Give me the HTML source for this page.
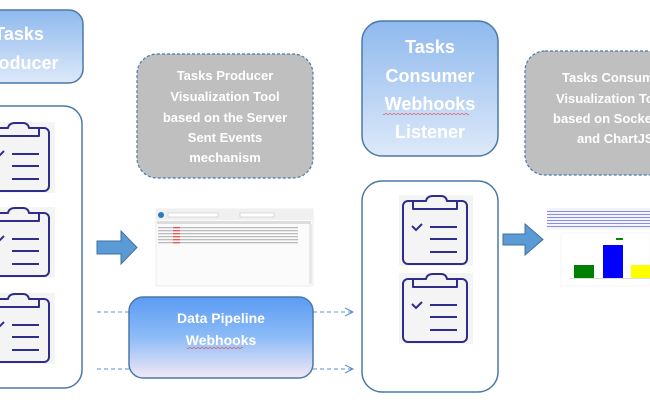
<!DOCTYPE html>
<html><head><meta charset="utf-8"><style>
html,body{margin:0;padding:0;background:#fff;width:650px;height:400px;overflow:hidden}
text{font-family:"Liberation Sans",sans-serif;font-weight:bold;fill:#fff}
</style></head><body>
<svg width="650" height="400" viewBox="0 0 650 400" xmlns="http://www.w3.org/2000/svg">
<defs>
<linearGradient id="bl" x1="0" y1="0" x2="0" y2="1"><stop offset="0" stop-color="#8fb9ee"/><stop offset="1" stop-color="#dde9f9"/></linearGradient>
<linearGradient id="pl" x1="0" y1="0" x2="0" y2="1"><stop offset="0" stop-color="#5b9bf3"/><stop offset="0.5" stop-color="#8dbcf7"/><stop offset="1" stop-color="#f3e8f5"/></linearGradient>
<g id="clip">
<rect x="0" y="0" width="74" height="71" fill="#f4f4f4"/>
<rect x="4" y="6" width="64" height="63" rx="5" fill="none" stroke="#2e2e8a" stroke-width="2"/>
<path d="M14 14 V6 H27 Q28 1 34 1 H42 Q47 1 48 6 H58 V14 Z" fill="#f4f4f4" stroke="#2e2e8a" stroke-width="2" stroke-linejoin="round"/>
<path d="M13 31 L17 35 L23 29" fill="none" stroke="#2e2e8a" stroke-width="2"/>
<path d="M31 32 H58 M31 44 H58 M31 57 H58" stroke="#2e2e8a" stroke-width="2"/>
</g>
</defs>

<rect x="-45" y="10" width="128" height="73" rx="14" fill="url(#bl)" stroke="#4a79a8" stroke-width="1.5"/>
<text x="19" y="40" font-size="18" text-anchor="middle">Tasks</text>
<text x="19" y="69" font-size="18" text-anchor="middle">Producer</text>

<rect x="-40" y="106" width="122" height="282" rx="18" fill="#fff" stroke="#4a79a8" stroke-width="1.5"/>
<use href="#clip" x="-19" y="122"/>
<use href="#clip" x="-19" y="207"/>
<use href="#clip" x="-19" y="293"/>

<rect x="137" y="54" width="176" height="124" rx="20" fill="#bfbfbf" stroke="#4a79a8" stroke-width="1.2" stroke-dasharray="3,2"/>
<g font-size="13" text-anchor="middle">
<text x="225" y="80">Tasks Producer</text>
<text x="225" y="101">Visualization Tool</text>
<text x="225" y="122">based on the Server</text>
<text x="225" y="142">Sent Events</text>
<text x="225" y="162">mechanism</text>
</g>

<path d="M97 241 H121 V231 L137 247.5 L121 264 V254 H97 Z" fill="#5b9bd5" stroke="#41719c" stroke-width="1"/>

<rect x="156" y="209" width="157" height="77" fill="#fbfbfb" stroke="#ddd" stroke-width="0.5"/>
<rect x="156" y="209" width="157" height="11" fill="#f0f0f0"/>
<circle cx="161" cy="215" r="3" fill="#2b78c4"/>
<rect x="168" y="213" width="50" height="4" fill="#fff" stroke="#bbb" stroke-width="0.5"/>
<rect x="240" y="213" width="34" height="4" fill="#fff" stroke="#bbb" stroke-width="0.5"/>
<rect x="157" y="221" width="154" height="3" fill="#ddd"/>
<g fill="#bbb">
<rect x="158" y="227" width="140" height="1.3"/><rect x="158" y="230" width="140" height="1.3"/><rect x="158" y="233" width="140" height="1.3"/><rect x="158" y="236" width="140" height="1.3"/><rect x="158" y="239" width="140" height="1.3"/><rect x="158" y="242" width="140" height="1.3"/>
</g>
<g fill="#e55"><rect x="173" y="227" width="7" height="1.3"/><rect x="173" y="230" width="7" height="1.3"/><rect x="173" y="233" width="7" height="1.3"/><rect x="173" y="236" width="7" height="1.3"/><rect x="173" y="239" width="7" height="1.3"/><rect x="173" y="242" width="7" height="1.3"/></g>
<rect x="309" y="224" width="3" height="60" fill="#e8e8e8"/>

<path d="M97 312 H129 M97 369 H129 M313 312 H352 M313 369 H352" stroke="#5b8fd0" stroke-width="1" stroke-dasharray="4,3"/>
<path d="M345 308 L353 312 L345 316 M345 365 L353 369 L345 373" fill="none" stroke="#5b8fd0" stroke-width="1"/>
<rect x="129" y="297" width="184" height="81" rx="14" fill="url(#pl)" stroke="#4a79a8" stroke-width="1.5"/>
<text x="221" y="323" font-size="14" text-anchor="middle">Data Pipeline</text>
<text x="221" y="345" font-size="14" text-anchor="middle">Webhooks</text>
<path d="M187 348 q1 1.5 2 0 t2 0 t2 0 t2 0 t2 0 t2 0 t2 0 t2 0 t2 0 t2 0 t2 0 t2 0 t2 0 t2 0 t2 0 t2 0 t2 0 t2 0 t2 0 t2 0 t2 0 t2 0 t2 0 t2 0 t2 0 t2 0 t2 0 t2 0" fill="none" stroke="#e33" stroke-width="0.6"/>

<rect x="362" y="21" width="136" height="135" rx="20" fill="url(#bl)" stroke="#4a79a8" stroke-width="1.5"/>
<g font-size="18" text-anchor="middle">
<text x="430" y="53">Tasks</text>
<text x="430" y="82">Consumer</text>
<text x="430" y="110">Webhooks</text>
<text x="430" y="138">Listener</text>
</g>
<path d="M383 114 q1 1.5 2 0 t2 0 t2 0 t2 0 t2 0 t2 0 t2 0 t2 0 t2 0 t2 0 t2 0 t2 0 t2 0 t2 0 t2 0 t2 0 t2 0 t2 0 t2 0 t2 0 t2 0 t2 0 t2 0 t2 0 t2 0 t2 0 t2 0 t2 0 t2 0 t2 0 t2 0 t2 0 t2 0 t2 0 t2 0 t2 0 t2 0 t2 0 t2 0 t2 0 t2 0 t2 0 t2 0" fill="none" stroke="#e33" stroke-width="0.6"/>

<rect x="362" y="181" width="136" height="211" rx="20" fill="#fff" stroke="#4a79a8" stroke-width="1.5"/>
<use href="#clip" x="399" y="195"/>
<use href="#clip" x="399" y="273"/>

<rect x="525" y="51" width="160" height="124" rx="20" fill="#bfbfbf" stroke="#4a79a8" stroke-width="1.2" stroke-dasharray="3,2"/>
<g font-size="13" text-anchor="start">
<text x="562" y="82">Tasks Consumer</text>
<text x="556" y="103">Visualization Tool</text>
<text x="553" y="123">based on Sockets</text>
<text x="577" y="143">and ChartJS</text>
</g>

<path d="M503 234 H525 V224 L543 239.5 L525 255 V245 H503 Z" fill="#5b9bd5" stroke="#41719c" stroke-width="1"/>

<rect x="547" y="208" width="103" height="22" fill="#f4f4fb"/>
<g fill="#8a8ae8">
<rect x="547" y="211" width="103" height="1"/><rect x="547" y="214" width="103" height="1"/><rect x="547" y="217" width="103" height="1"/><rect x="547" y="220" width="103" height="1"/><rect x="547" y="223" width="103" height="1"/><rect x="547" y="226" width="103" height="1"/>
</g>
<rect x="561" y="233" width="89" height="53" fill="#fff" stroke="#eee" stroke-width="0.5"/>
<rect x="616" y="238" width="7" height="2" fill="#080"/>
<rect x="574" y="265" width="20" height="13" fill="#008000"/>
<rect x="603" y="245" width="20" height="33" fill="#0000ff"/>
<rect x="631" y="265" width="20" height="13" fill="#ffff00"/>
<rect x="570" y="278" width="80" height="0.7" fill="#ccc"/>
</svg>
</body></html>
